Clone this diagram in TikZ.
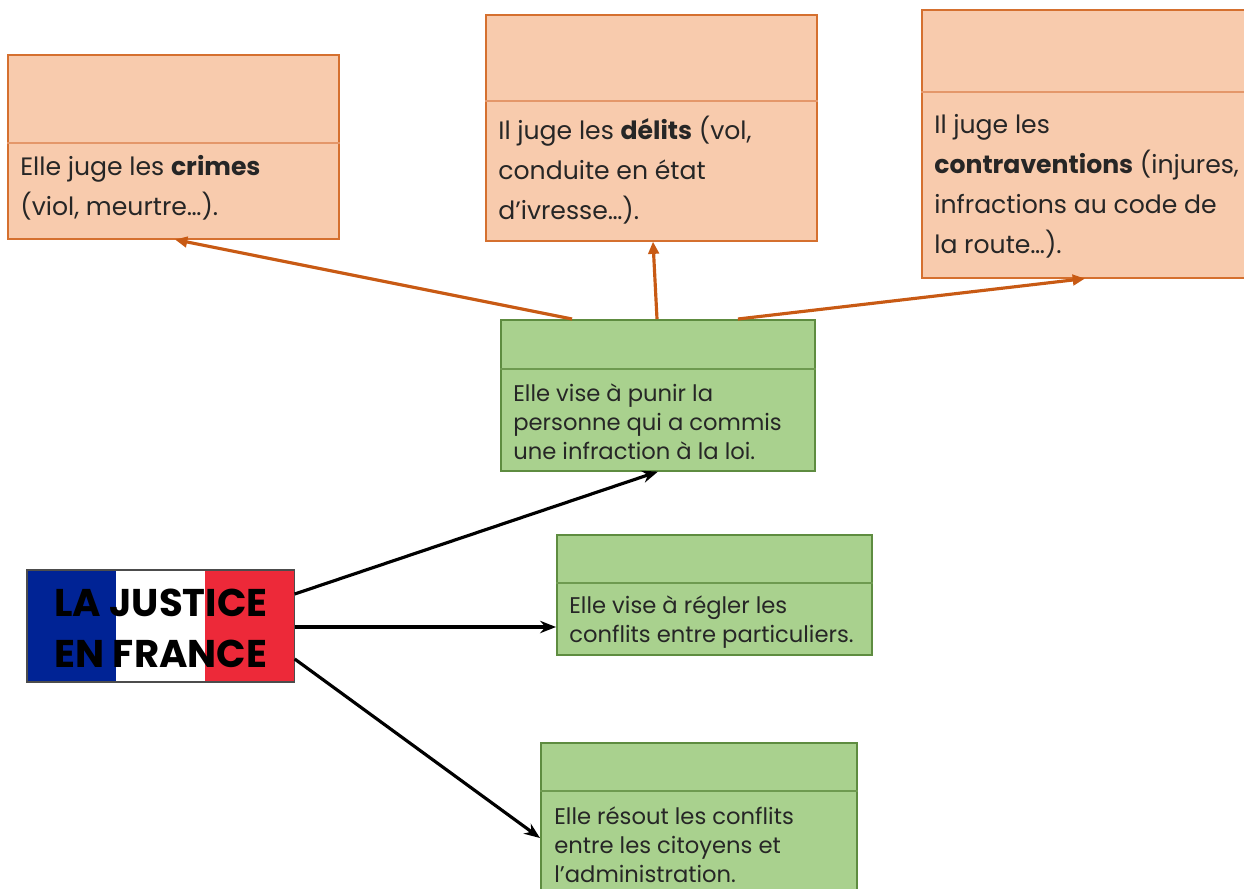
\documentclass[tikz,border=0pt]{standalone}
\usepackage{fontspec}
\setmainfont{Poppins}
\usetikzlibrary{arrows.meta,calc}
\definecolor{ofill}{HTML}{F8CBAD}
\definecolor{oline}{HTML}{D5702F}
\definecolor{odiv}{HTML}{E4976A}
\definecolor{oarr}{HTML}{C85A14}
\definecolor{gfill}{HTML}{A9D18E}
\definecolor{gline}{HTML}{5E8C40}
\definecolor{gdiv}{HTML}{6E9A50}
\definecolor{fblue}{HTML}{002395}
\definecolor{fred}{HTML}{ED2939}
\definecolor{txt}{HTML}{262626}
\tikzset{
  obox/.style={draw=oline, fill=ofill, line width=0.9pt, anchor=north west, inner sep=0pt},
  gbox/.style={draw=gline, fill=gfill, line width=0.9pt, anchor=north west, inner sep=0pt},
  odivline/.style={draw=odiv, line width=0.8pt},
  gdivline/.style={draw=gdiv, line width=0.8pt},
  otext/.style={anchor=west, align=left, inner sep=0pt, text=txt, font=\fontsize{14.3}{22.7}\selectfont},
  gtext/.style={anchor=west, align=left, inner sep=0pt, text=txt, font=\fontsize{12.9}{16.4}\selectfont},
  oarrow/.style={draw=oarr, line width=1.8pt, -{Triangle[length=7pt,width=6pt]}},
  karrow/.style={draw=black, line width=1.8pt, -{Stealth[length=9pt,width=7pt]}},
  flagtext/.style={inner sep=0pt, font=\fontsize{22}{29}\selectfont\bfseries, text=black}
}
\begin{document}
\begin{tikzpicture}[x=0.02cm,y=-0.02cm]
\useasboundingbox (0,0) rectangle (1244,889);
\clip (0,0) rectangle (1244,889);
% orange boxes
\node[obox, minimum width=331*0.02cm, minimum height=184*0.02cm] (A) at (7,54) {};
\draw[odivline] (A.west |- 0,143) -- (A.east |- 0,143);
\node[otext] (At) at (20,188) {Elle juge les \textbf{crimes}\\(viol, meurtre…).};

\node[obox, minimum width=331*0.02cm, minimum height=226*0.02cm] (B) at (485,14) {};
\draw[odivline] (B.west |- 0,101) -- (B.east |- 0,101);
\node[otext] (Bt) at (498,170) {Il juge les \textbf{délits} (vol,\\conduite en état\\d’ivresse…).};

\node[obox, minimum width=340*0.02cm, minimum height=268*0.02cm] (C) at (921,9) {};
\draw[odivline] (C.west |- 0,92) -- (C.east |- 0,92);
\node[otext] (Ct) at (934,186) {Il juge les\\\textbf{contraventions} (injures,\\infractions au code de\\la route…).};

% green boxes
\node[gbox, minimum width=314*0.02cm, minimum height=151*0.02cm] (P) at (500,319) {};
\draw[gdivline] (P.west |- 0,369) -- (P.east |- 0,369);
\node[gtext] (Pt) at (513,422) {Elle vise à punir la\\personne qui a commis\\une infraction à la loi.};

\node[gbox, minimum width=315*0.02cm, minimum height=120*0.02cm] (Q) at (556,534) {};
\draw[gdivline] (Q.west |- 0,583) -- (Q.east |- 0,583);
\node[gtext] (Qt) at (569,622) {Elle vise à régler les\\conflits entre particuliers.};

\node[gbox, minimum width=316*0.02cm, minimum height=170*0.02cm] (R) at (540,742) {};
\draw[gdivline] (R.west |- 0,791) -- (R.east |- 0,791);
\node[gtext] (Rt) at (554,845) {Elle résout les conflits\\entre les citoyens et\\l’administration.};

% flag
\node[anchor=north west, inner sep=0pt, minimum width=267*0.02cm, minimum height=111*0.02cm] (F) at (27,570) {};
\fill[fblue] (F.north west) rectangle ($(F.south west)+(89,0)$);
\fill[white] ($(F.north west)+(89,0)$) rectangle ($(F.south west)+(178,0)$);
\fill[fred] ($(F.north west)+(178,0)$) rectangle (F.south east);
\draw[draw=black!70, line width=0.9pt] (F.north west) rectangle (F.south east);
\node[flagtext] (F1) at (161,603) {LA JUSTICE};
\node[flagtext] (F2) at (161,654) {EN FRANCE};

% orange arrows
\draw[oarrow] ($(P.north west)+(72,0)$) -- ($(A.south west)+(168,0)$);
\draw[oarrow] ($(P.north west)+(157,0)$) -- ($(B.south west)+(168,0)$);
\draw[oarrow] ($(P.north west)+(238,0)$) -- ($(C.south west)+(164,0)$);

% black arrows
\draw[karrow] ($(F.north east)+(0,24)$) -- ($(P.south west)+(158,0)$);
\draw[karrow] ($(F.north east)+(0,57)$) -- ($(Q.north west)+(0,93)$);
\draw[karrow] ($(F.north east)+(0,89)$) -- ($(R.north west)+(0,96)$);
\end{tikzpicture}
\end{document}
